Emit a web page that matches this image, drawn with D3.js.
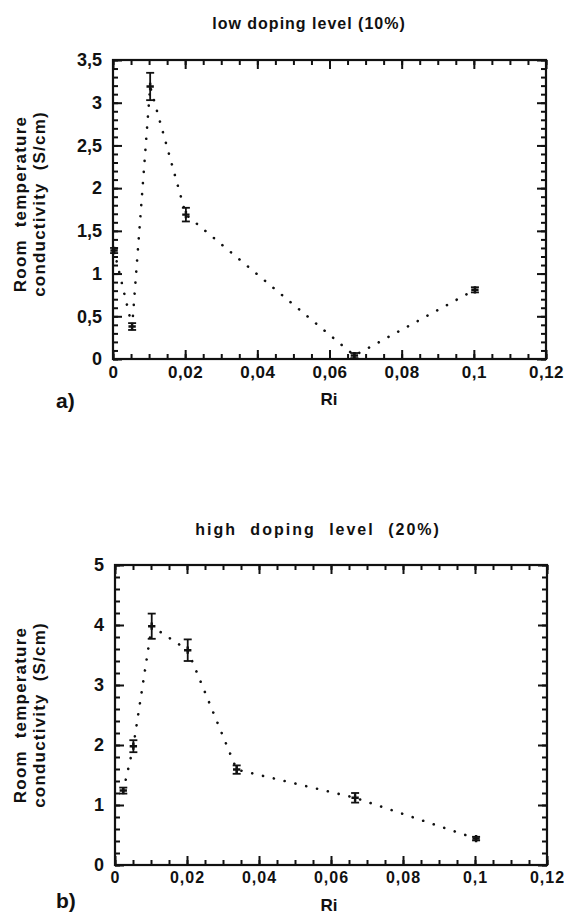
<!DOCTYPE html>
<html><head><meta charset="utf-8">
<script src="https://cdn.jsdelivr.net/npm/d3@7"></script>
<style>
html,body{margin:0;padding:0;background:#fff;}
svg{display:block;}
text{font-family:"Liberation Sans",Arial,Helvetica,sans-serif;font-weight:bold;fill:#111;}
</style></head>
<body>
<script>
// ---- data ----
const xTickValues = [0, 0.02, 0.04, 0.06, 0.08, 0.1, 0.12];
const xTickLabels = ["0", "0,02", "0,04", "0,06", "0,08", "0,1", "0,12"];

const lowTitle = "low doping level (10%)";
const lowRi    = [0.0003, 0.0053, 0.0103, 0.0202, 0.0669, 0.1003];
const lowSigma = [1.27, 0.38, 3.19, 1.69, 0.04, 0.81];
const lowErr   = [0.03, 0.04, 0.16, 0.08, 0.03, 0.03];
const lowYTicks  = [0, 0.5, 1, 1.5, 2, 2.5, 3, 3.5];
const lowYLabels = ["0", "0,5", "1", "1,5", "2", "2,5", "3", "3,5"];

const highTitle = "high doping level (20%)";
const highRi    = [0.0023, 0.0051, 0.0102, 0.0202, 0.0338, 0.0667, 0.1003];
const highSigma = [1.24, 1.98, 3.98, 3.58, 1.59, 1.12, 0.44];
const highErr   = [0.05, 0.10, 0.21, 0.18, 0.07, 0.08, 0.03];
const highYTicks  = [0, 1, 2, 3, 4, 5];
const highYLabels = ["0", "1", "2", "3", "4", "5"];

const yLabel1 = "Room temperature";
const yLabel2 = "conductivity (S/cm)";
const xLabel = "Ri";

// ---- drawing ----
const svg = d3.select("body").append("svg").attr("width", 564).attr("height", 914);

function panel(cfg) {
  const g = svg.append("g");
  const x = d3.scaleLinear().domain([0, 0.12]).range([cfg.left, cfg.right]);
  const y = d3.scaleLinear().domain([0, cfg.yMax]).range([cfg.bottom, cfg.top]);

  const xMinor = d3.range(0, 0.12001, 0.005);
  const yMinor = d3.range(0, cfg.yMax + 1e-6, cfg.yMinorStep);

  function styleAxis(sel) {
    sel.select(".domain").remove();
    sel.selectAll(".tick line").attr("stroke", "#111").attr("stroke-width", 2);
  }
  const mk = (axis, tr) => g.append("g").attr("transform", tr).call(axis).call(styleAxis)
    .call(s => s.selectAll("text").remove());
  // minor ticks on all four sides
  mk(d3.axisBottom(x).tickValues(xMinor).tickSizeInner(-5).tickSizeOuter(0), `translate(0,${cfg.bottom})`);
  mk(d3.axisTop(x).tickValues(xMinor).tickSizeInner(-5).tickSizeOuter(0), `translate(0,${cfg.top})`);
  mk(d3.axisLeft(y).tickValues(yMinor).tickSizeInner(-5).tickSizeOuter(0), `translate(${cfg.left},0)`);
  mk(d3.axisRight(y).tickValues(yMinor).tickSizeInner(-5).tickSizeOuter(0), `translate(${cfg.right},0)`);
  // major ticks top/right
  mk(d3.axisTop(x).tickValues(xTickValues).tickSizeInner(-9).tickSizeOuter(0), `translate(0,${cfg.top})`);
  mk(d3.axisRight(y).tickValues(cfg.yTicks).tickSizeInner(-9).tickSizeOuter(0), `translate(${cfg.right},0)`);

  const xa = g.append("g").attr("transform", `translate(0,${cfg.bottom})`)
    .call(d3.axisBottom(x).tickValues(xTickValues).tickSizeInner(-9).tickSizeOuter(0).tickPadding(7)
      .tickFormat((d, i) => xTickLabels[i]))
    .call(styleAxis);
  xa.selectAll("text").attr("font-size", cfg.xFont).attr("letter-spacing", cfg.xLetter)
    .attr("font-family", "Liberation Sans, Arial, sans-serif").attr("font-weight", "bold").attr("fill", "#111");

  const ya = g.append("g").attr("transform", `translate(${cfg.left},0)`)
    .call(d3.axisLeft(y).tickValues(cfg.yTicks).tickSizeInner(-9).tickSizeOuter(0).tickPadding(11)
      .tickFormat((d, i) => cfg.yLabels[i]))
    .call(styleAxis);
  ya.selectAll("text").attr("font-size", 18)
    .attr("font-family", "Liberation Sans, Arial, sans-serif").attr("font-weight", "bold").attr("fill", "#111");

  // frame
  g.append("rect").attr("x", cfg.left).attr("y", cfg.top)
    .attr("width", cfg.right - cfg.left).attr("height", cfg.bottom - cfg.top)
    .attr("fill", "none").attr("stroke", "#111").attr("stroke-width", 2.2);

  // dotted line
  const line = d3.line().x((d, i) => x(cfg.ri[i])).y((d) => y(d));
  g.append("path").datum(cfg.sigma).attr("d", line)
    .attr("fill", "none").attr("stroke", "#111").attr("stroke-width", 2.6)
    .attr("stroke-linecap", "round").attr("stroke-dasharray", "0.1,11");

  // error bars
  const pts = cfg.sigma.map((s, i) => ({x: cfg.ri[i], y: s, e: cfg.err[i]}));
  const eb = g.append("g").attr("stroke", "#111").attr("stroke-width", 1.8);
  pts.forEach(p => {
    const cx = x(p.x), y1 = y(p.y + p.e), y2 = y(p.y - p.e);
    eb.append("line").attr("x1", cx).attr("x2", cx).attr("y1", y1).attr("y2", y2);
    eb.append("line").attr("x1", cx - 4).attr("x2", cx + 4).attr("y1", y1).attr("y2", y1);
    eb.append("line").attr("x1", cx - 4).attr("x2", cx + 4).attr("y1", y2).attr("y2", y2);
  });
  g.selectAll(".mark").data(pts).join("path")
    .attr("transform", d => `translate(${x(d.x)},${y(d.y)})`)
    .attr("d", d3.symbol().type(d3.symbolCross).size(30)).attr("fill", "#111");

  // titles and labels
  g.append("text").attr("x", cfg.titleX).attr("y", cfg.titleY).attr("text-anchor", "middle")
    .attr("font-size", 16).attr("letter-spacing", cfg.titleLetter).attr("word-spacing", cfg.titleWord).text(cfg.title);
  g.append("text").attr("transform", `translate(26,${cfg.yLabelC}) rotate(-90)`).attr("text-anchor", "middle")
    .attr("font-size", 17).attr("letter-spacing", 1.2).attr("word-spacing", 6).text(yLabel1);
  g.append("text").attr("transform", `translate(45,${cfg.yLabelC}) rotate(-90)`).attr("text-anchor", "middle")
    .attr("font-size", 17).attr("letter-spacing", 1.2).attr("word-spacing", 6).text(yLabel2);
  g.append("text").attr("x", 329).attr("y", cfg.xLabelY).attr("text-anchor", "middle")
    .attr("font-size", 17).text(xLabel);
  g.append("text").attr("x", cfg.tagX).attr("y", cfg.tagY)
    .attr("font-family", "Liberation Serif, Times New Roman, serif").attr("font-size", 21).text(cfg.tag);
}

panel({left: 113, right: 546, top: 60, bottom: 359, yMax: 3.5, yMinorStep: 0.1,
  yTicks: lowYTicks, yLabels: lowYLabels, ri: lowRi, sigma: lowSigma, err: lowErr,
  title: lowTitle, titleX: 309, titleY: 29, titleLetter: 1, titleWord: 0, yLabelC: 204,
  xLabelY: 405, tagX: 56, tagY: 408, tag: "a)", xFont: 17, xLetter: 0.5});

panel({left: 115, right: 547, top: 565, bottom: 865, yMax: 5, yMinorStep: 0.2,
  yTicks: highYTicks, yLabels: highYLabels, ri: highRi, sigma: highSigma, err: highErr,
  title: highTitle, titleX: 318, titleY: 535, titleLetter: 2, titleWord: 7, yLabelC: 715,
  xLabelY: 911, tagX: 56, tagY: 908, tag: "b)", xFont: 16, xLetter: 1});
</script>
</body></html>
